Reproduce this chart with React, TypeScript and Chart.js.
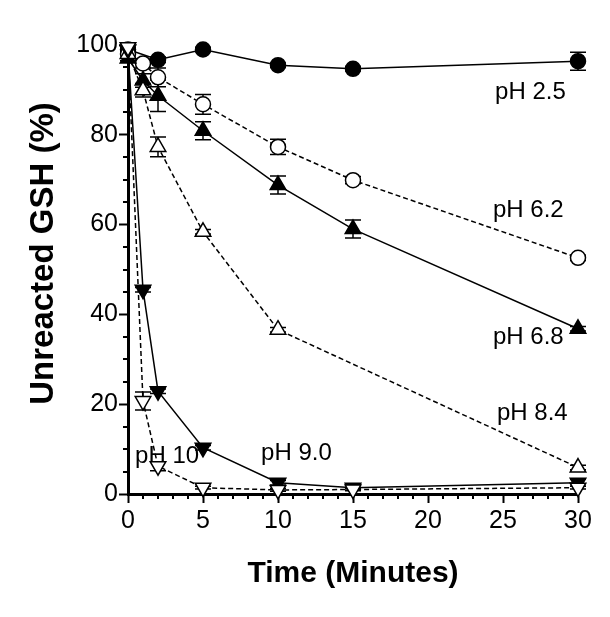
import React, { useEffect, useRef } from "react";
import { Chart, registerables } from "chart.js";

Chart.register(...registerables);

// ---- data ----
const seriesNames = ["pH 2.5", "pH 6.2", "pH 6.8", "pH 8.4", "pH 9.0", "pH 10"];

const times = [0, 1, 2, 5, 10, 15, 30];
const ph25Times = [0, 2, 5, 10, 15, 30];
const ph84Times = [0, 1, 2, 5, 10, 30];

const ph25 = [99, 96.7, 99.0, 95.5, 94.7, 96.4];
const ph25Err = [0, 0.6, 0.5, 0.5, 0.5, 2.0];
const ph62 = [98, 95.9, 92.8, 86.8, 77.3, 69.9, 52.6];
const ph62Err = [0, 1.0, 2.1, 2.2, 1.7, 0.8, 0.6];
const ph68 = [97, 92.1, 88.7, 80.9, 68.8, 59.0, 36.8];
const ph68Err = [0, 1.5, 3.5, 2.0, 2.0, 2.0, 0.5];
const ph84 = [98, 89.9, 77.3, 58.4, 36.6, 5.9];
const ph84Err = [1.5, 1.5, 2.2, 0.5, 0.5, 0.5];
const ph90 = [99, 45.5, 22.9, 10.3, 2.5, 1.4, 2.5];
const ph90Err = [0, 0.5, 0.5, 0.5, 0.5, 0.5, 0.8];
const ph10 = [99.5, 20.7, 6.2, 1.4, 0.9, 1.0, 1.4];
const ph10Err = [1.0, 2.0, 1.0, 0.3, 0.3, 0.3, 0.3];

// label anchors in data units (x = minutes, y = % at text baseline)
const labelX = [24.47, 24.33, 24.33, 24.6, 8.87, 0.47];
const labelY = [88.0, 61.8, 33.4, 16.5, 7.6, 6.9];

const xTicksMajor = [0, 5, 10, 15, 20, 25, 30];
const yTicksMajor = [0, 20, 40, 60, 80, 100];

const xTitle = "Time (Minutes)";
const yTitle = "Unreacted GSH (%)";

const FONT = "'Liberation Sans', Arial, Helvetica, sans-serif";

function pts(xs: number[], ys: number[]) {
  return xs.map((x, i) => ({ x, y: ys[i] }));
}

const errorsBySeries = [ph25Err, ph62Err, ph68Err, ph84Err, ph90Err, ph10Err];

const extrasPlugin = {
  id: "extras",
  beforeDatasetsDraw(chart: any) {
    const ctx = chart.ctx;
    const xs = chart.scales.x;
    const ys = chart.scales.y;
    ctx.save();
    // series labels (markers draw over them)
    ctx.fillStyle = "#000";
    ctx.font = `24px ${FONT}`;
    ctx.textAlign = "left";
    ctx.textBaseline = "alphabetic";
    seriesNames.forEach((name, i) => {
      ctx.fillText(name, xs.getPixelForValue(labelX[i]), ys.getPixelForValue(labelY[i]));
    });
    // error bars
    ctx.strokeStyle = "#000";
    ctx.lineWidth = 1.5;
    chart.data.datasets.forEach((ds: any, i: number) => {
      const errs = errorsBySeries[i];
      ds.data.forEach((p: any, j: number) => {
        const e = errs[j];
        if (!e) return;
        const px = xs.getPixelForValue(p.x);
        const top = ys.getPixelForValue(p.y + e);
        const bot = ys.getPixelForValue(p.y - e);
        ctx.beginPath();
        ctx.moveTo(px, top);
        ctx.lineTo(px, bot);
        ctx.moveTo(px - 8, top);
        ctx.lineTo(px + 8, top);
        ctx.moveTo(px - 8, bot);
        ctx.lineTo(px + 8, bot);
        ctx.stroke();
      });
    });
    ctx.restore();
  },
  afterDraw(chart: any) {
    const ctx = chart.ctx;
    const xs = chart.scales.x;
    const ys = chart.scales.y;
    const area = chart.chartArea;
    ctx.save();
    ctx.strokeStyle = "#000";
    ctx.lineWidth = 2;
    // minor ticks
    for (let v = 0; v <= 30; v++) {
      if (v % 5 === 0) continue;
      const px = Math.round(xs.getPixelForValue(v));
      ctx.beginPath();
      ctx.moveTo(px, area.bottom);
      ctx.lineTo(px, area.bottom + 5);
      ctx.stroke();
    }
    for (let v = 0; v <= 100; v += 5) {
      if (v % 20 === 0) continue;
      const py = Math.round(ys.getPixelForValue(v));
      ctx.beginPath();
      ctx.moveTo(area.left, py);
      ctx.lineTo(area.left - 5, py);
      ctx.stroke();
    }
    // y axis title
    ctx.fillStyle = "#000";
    ctx.font = `bold 33px ${FONT}`;
    ctx.textAlign = "center";
    ctx.textBaseline = "middle";
    ctx.translate(44, (area.top + area.bottom) / 2 - 16);
    ctx.rotate(-Math.PI / 2);
    ctx.fillText(yTitle, 0, 0);
    ctx.restore();
  },
};

export default function App() {
  const ref = useRef<HTMLCanvasElement | null>(null);
  useEffect(() => {
    if (!ref.current) return;
    const common = {
      borderColor: "#000",
      borderWidth: 1.5,
      pointBorderColor: "#000",
      pointBorderWidth: 1.5,
      showLine: true,
      clip: false as any,
    };
    const chart = new Chart(ref.current, {
      type: "scatter",
      data: {
        datasets: [
          { ...common, order: 6, label: seriesNames[0], data: pts(ph25Times, ph25), pointStyle: "circle", pointRadius: 7.5, pointBackgroundColor: "#000" },
          { ...common, order: 5, label: seriesNames[1], data: pts(times, ph62), pointStyle: "circle", pointRadius: 7.5, pointBackgroundColor: "#fff", borderDash: [5, 3] },
          { ...common, order: 4, label: seriesNames[2], data: pts(times, ph68), pointStyle: "triangle", pointRadius: 9, pointBackgroundColor: "#000" },
          { ...common, order: 3, label: seriesNames[3], data: pts(ph84Times, ph84), pointStyle: "triangle", pointRadius: 9, pointBackgroundColor: "#fff", borderDash: [5, 3] },
          { ...common, order: 2, label: seriesNames[4], data: pts(times, ph90), pointStyle: "triangle", rotation: 180, pointRotation: 180, pointRadius: 9, pointBackgroundColor: "#000" } as any,
          { ...common, order: 1, label: seriesNames[5], data: pts(times, ph10), pointStyle: "triangle", rotation: 180, pointRotation: 180, pointRadius: 9, pointBackgroundColor: "#fff", borderDash: [5, 3] } as any,
        ],
      },
      options: {
        responsive: false,
        animation: false,
        devicePixelRatio: 1,
        layout: { padding: { left: 0, right: 32, top: 45, bottom: 0 } },
        plugins: { legend: { display: false }, tooltip: { enabled: false } },
        scales: {
          x: {
            type: "linear",
            min: 0,
            max: 30,
            afterFit: (s: any) => { s.height = 123; },
            afterBuildTicks: (s: any) => { s.ticks = xTicksMajor.map((v) => ({ value: v })); },
            ticks: { color: "#000", font: { size: 25, family: FONT }, padding: 3, maxRotation: 0 },
            grid: { display: true, drawOnChartArea: false, drawTicks: true, tickLength: 9, tickWidth: 2, tickColor: "#000" },
            border: { display: true, color: "#000", width: 3 },
            title: { display: true, text: xTitle, color: "#000", font: { size: 30, weight: "bold", family: FONT }, padding: { top: 0, bottom: 25 } },
          },
          y: {
            type: "linear",
            min: 0,
            max: 100,
            afterFit: (s: any) => { s.width = 128; },
            afterBuildTicks: (s: any) => { s.ticks = yTicksMajor.map((v) => ({ value: v })); },
            ticks: { color: "#000", font: { size: 25, family: FONT }, padding: 1 },
            grid: { display: true, drawOnChartArea: false, drawTicks: true, tickLength: 9, tickWidth: 2, tickColor: "#000" },
            border: { display: true, color: "#000", width: 3 },
            title: { display: false },
          },
        },
      },
      plugins: [extrasPlugin],
    } as any);
    return () => chart.destroy();
  }, []);
  return (
    <canvas
      ref={ref}
      width={610}
      height={617}
      style={{ position: "absolute", left: 0, top: 0, width: 610, height: 617 }}
    />
  );
}
